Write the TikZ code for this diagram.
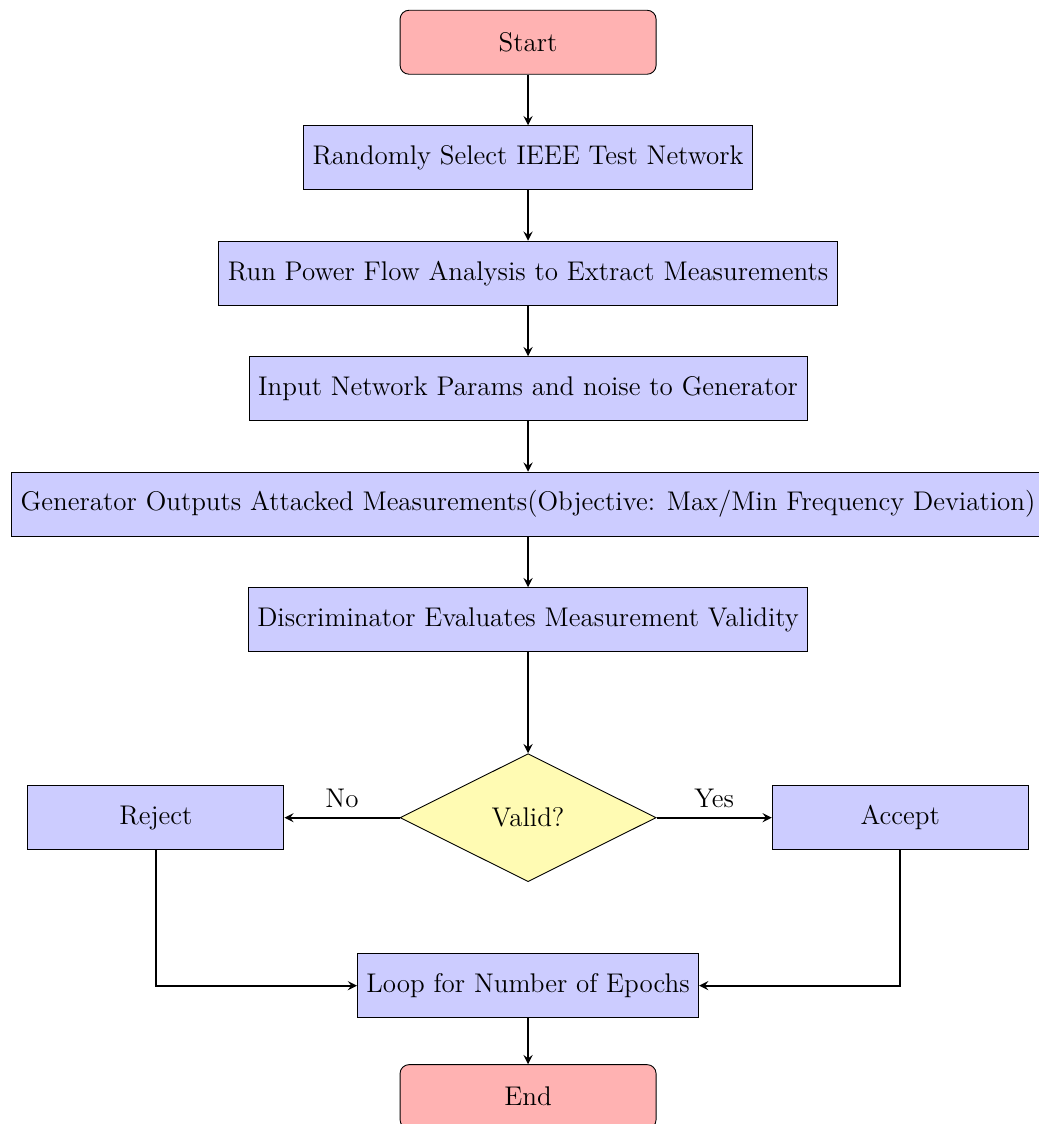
\documentclass[12pt,tikz,border=0pt]{standalone}
\usepackage{tikz}
\usetikzlibrary{arrows, shapes.geometric, positioning}

\tikzset{
startstop/.style={rectangle, rounded corners, minimum width=4cm, minimum height=1cm, text centered, draw=black, fill=red!30},
process/.style={rectangle, minimum width=4cm, minimum height=1cm, text centered, draw=black, fill=blue!20},
decision/.style={diamond, aspect=2, minimum width=4cm, minimum height=2cm, text centered, draw=black, fill=yellow!30},
arrow/.style={thick, ->, >=stealth}
}

\begin{document}
\begin{tikzpicture}
\useasboundingbox (-8.25,0.66) rectangle (7.98,-16.9);
\node (start) [startstop] {Start};
\node (select) [process, below=0.79cm of start] {Randomly Select IEEE Test Network};
\node (flow) [process, below=0.79cm of select] {Run Power Flow Analysis to Extract Measurements};
\node (input) [process, below=0.79cm of flow] {Input Network Params and noise to Generator};
\node (gen) [process, below=0.79cm of input] {Generator Outputs Attacked Measurements(Objective: Max/Min Frequency Deviation)};
\node (disc) [process, below=0.79cm of gen] {Discriminator Evaluates Measurement Validity};
\node (valid) [decision, below=1.58cm of disc] {Valid?};
\node (reject) [process, left=1.8cm of valid] {Reject};
\node (accept) [process, right=1.8cm of valid] {Accept};
\node (loop) [process, below=1.11cm of valid] {Loop for Number of Epochs};
\node (stop) [startstop, below=0.72cm of loop] {End};

\draw [arrow] (start) -- (select);
\draw [arrow] (select) -- (flow);
\draw [arrow] (flow) -- (input);
\draw [arrow] (input) -- (gen);
\draw [arrow] (gen) -- (disc);
\draw [arrow] (disc) -- (valid);
\draw [arrow] (valid) -- node[above] {No} (reject);
\draw [arrow] (valid) -- node[above] {Yes} (accept);
\draw [arrow] (reject) |- (loop);
\draw [arrow] (accept) |- (loop);
\draw [arrow] (loop) -- (stop);
\end{tikzpicture}
\end{document}
